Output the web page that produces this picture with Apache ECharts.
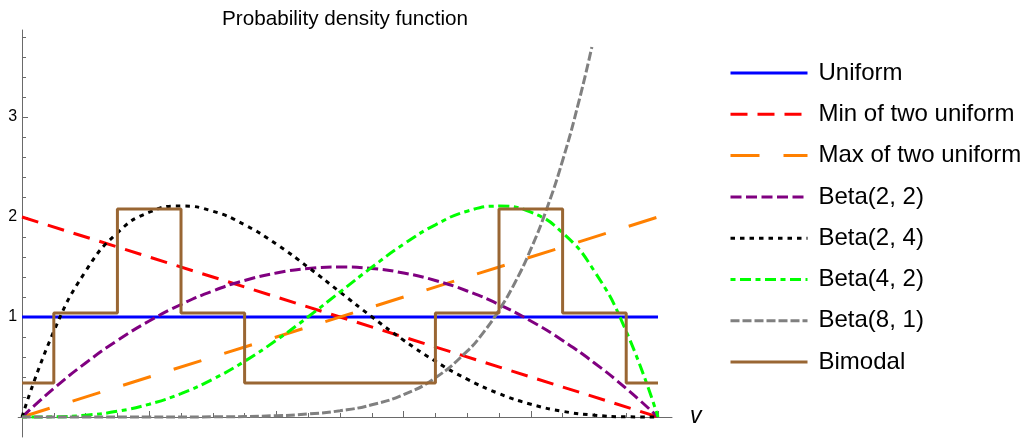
<!DOCTYPE html>
<html><head><meta charset="utf-8">
<script src="https://cdn.jsdelivr.net/npm/echarts@6/dist/echarts.min.js"></script>
<style>html,body{margin:0;padding:0;background:#fff}#c{width:1034px;height:443px}</style>
</head><body><div id="c"></div>
<script>
// ---- data ----
const seriesNames = ['Uniform', 'Min of two uniform', 'Max of two uniform', 'Beta(2, 2)', 'Beta(2, 4)', 'Beta(4, 2)', 'Beta(8, 1)', 'Bimodal'];
const lineX = [0, 1];
const uniformY = [1, 1];
const minOfTwoY = [2, 0];
const maxOfTwoY = [0, 2];
const curveX = [0, 0.05, 0.1, 0.15, 0.2, 0.25, 0.3, 0.35, 0.4, 0.45, 0.5, 0.55, 0.6, 0.65, 0.7, 0.75, 0.8, 0.85, 0.9, 0.95, 1];
const beta22Y = [0, 0.285, 0.54, 0.765, 0.96, 1.125, 1.26, 1.365, 1.44, 1.485, 1.5, 1.485, 1.44, 1.365, 1.26, 1.125, 0.96, 0.765, 0.54, 0.285, 0];
const beta24Y = [0, 0.857, 1.458, 1.842, 2.048, 2.109, 2.058, 1.922, 1.728, 1.497, 1.25, 1.002, 0.768, 0.557, 0.378, 0.234, 0.128, 0.057, 0.018, 0.002, 0];
const beta42Y = [0, 0.002, 0.018, 0.057, 0.128, 0.234, 0.378, 0.557, 0.768, 1.002, 1.25, 1.497, 1.728, 1.922, 2.058, 2.109, 2.048, 1.842, 1.458, 0.857, 0];
const beta81X = [0, 0.1, 0.2, 0.3, 0.4, 0.45, 0.5, 0.55, 0.6, 0.65, 0.7, 0.725, 0.75, 0.775, 0.8, 0.825, 0.85, 0.875, 0.896];
const beta81Y = [0, 0, 0.0001, 0.0017, 0.013, 0.030, 0.0625, 0.122, 0.224, 0.392, 0.659, 0.842, 1.068, 1.343, 1.678, 2.081, 2.565, 3.141, 3.70];
const bimodalX = [0, 0.05, 0.15, 0.25, 0.35, 0.65, 0.75, 0.85, 0.95, 1];
const bimodalY = [0.34, 1.04, 2.08, 1.04, 0.34, 1.04, 2.08, 1.04, 0.34, 0.34];
const xLabelValues = [0.2, 0.4, 0.6, 0.8, 1.0];
const xMinorTicks = [0.05, 0.1, 0.15, 0.2, 0.25, 0.3, 0.35, 0.4, 0.45, 0.5, 0.55, 0.6, 0.65, 0.7, 0.75, 0.8, 0.85, 0.9, 0.95, 1.0];
const yLabelValues = [1, 2, 3];
const yMinorTicks = [0.2, 0.4, 0.6, 0.8, 1, 1.2, 1.4, 1.6, 1.8, 2, 2.2, 2.4, 2.6, 2.8, 3, 3.2, 3.4, 3.6, 3.8];

const pairs = (xs, ys) => xs.map((x, i) => [x, ys[i]]);
const FONT = 'Liberation Sans';
const AXIS_COLOR = '#6a6a6a';

const styles = [
  { color: '#0000ff', type: 'solid' },
  { color: '#ff0000', type: [17, 10] },
  { color: '#ff8000', type: [29, 24] },
  { color: '#800080', type: [11, 4.5] },
  { color: '#000000', type: [4.5, 5] },
  { color: '#00ff00', type: [5, 4.5, 11, 4.5] },
  { color: '#808080', type: [9, 3] },
  { color: '#996633', type: 'solid' }
];
const dataSets = [
  pairs(lineX, uniformY),
  pairs(lineX, minOfTwoY),
  pairs(lineX, maxOfTwoY),
  pairs(curveX, beta22Y),
  pairs(curveX, beta24Y),
  pairs(curveX, beta42Y),
  pairs(beta81X, beta81Y),
  pairs(bimodalX, bimodalY)
];

const series = seriesNames.map((name, i) => ({
  name, type: 'line', data: dataSets[i], symbol: 'none',
  smooth: (i >= 3 && i <= 6) ? true : false,
  step: i === 7 ? 'end' : false,
  color: styles[i].color,
  lineStyle: { color: styles[i].color, width: 3, type: styles[i].type, cap: 'butt' },
  emphasis: { disabled: true },
  silent: true,
  animation: false
}));

const xBase = {
  type: 'value', min: -0.006, max: 1.022, position: 'bottom',
  splitLine: { show: false }
};
const yBase = {
  type: 'value', min: -0.2, max: 3.87, position: 'left',
  splitLine: { show: false }
};

const chart = echarts.init(document.getElementById('c'), null, { renderer: 'canvas' });
chart.setOption({
  animation: false,
  backgroundColor: '#fff',
  title: {
    text: 'Probability density function', left: 340, top: 4, textAlign: 'center',
    textStyle: { fontFamily: FONT, fontSize: 20.7, fontWeight: 'normal', color: '#000' }
  },
  grid: { left: 18.2, right: 362, top: 30, bottom: 6, containLabel: false, outerBoundsMode: 'none' },
  legend: {
    orient: 'vertical', left: 729, top: 59, padding: 0, itemWidth: 77, itemHeight: 12, itemGap: 13.3,
    data: seriesNames,
    itemStyle: { opacity: 0 },
    lineStyle: { width: 3 },
    textStyle: { fontFamily: FONT, fontSize: 24, color: '#000', lineHeight: 28, padding: [0, 0, 0, 6] },
    selectedMode: false
  },
  xAxis: [
    Object.assign({}, xBase, {
      name: 'v', nameLocation: 'end', nameGap: 18,
      nameTextStyle: { fontFamily: FONT, fontSize: 23, fontStyle: 'italic', color: '#000' },
      axisLine: { show: true, onZero: true, lineStyle: { color: AXIS_COLOR, width: 1 } },
      axisTick: { show: true, inside: true, length: 4, customValues: xMinorTicks, lineStyle: { color: AXIS_COLOR } },
      axisLabel: { show: true, customValues: xLabelValues, margin: 7, fontFamily: FONT, fontSize: 16, color: '#000',
        formatter: v => Number(v).toFixed(1) }
    }),
    Object.assign({}, xBase, {
      axisLine: { show: false, onZero: true, onZeroAxisIndex: 0 },
      axisTick: { show: true, inside: true, length: 6, customValues: xLabelValues, lineStyle: { color: AXIS_COLOR } },
      axisLabel: { show: false }
    })
  ],
  yAxis: [
    Object.assign({}, yBase, {
      axisLine: { show: true, onZero: true, lineStyle: { color: AXIS_COLOR, width: 1 } },
      axisTick: { show: true, inside: true, length: 4, customValues: yMinorTicks, lineStyle: { color: AXIS_COLOR } },
      axisLabel: { show: true, customValues: yLabelValues, margin: 1, fontFamily: FONT, fontSize: 16, color: '#000' }
    }),
    Object.assign({}, yBase, {
      axisLine: { show: false, onZero: true, onZeroAxisIndex: 0 },
      axisTick: { show: true, inside: true, length: 6, customValues: yLabelValues, lineStyle: { color: AXIS_COLOR } },
      axisLabel: { show: false }
    })
  ],
  series
});
</script>
</body></html>
